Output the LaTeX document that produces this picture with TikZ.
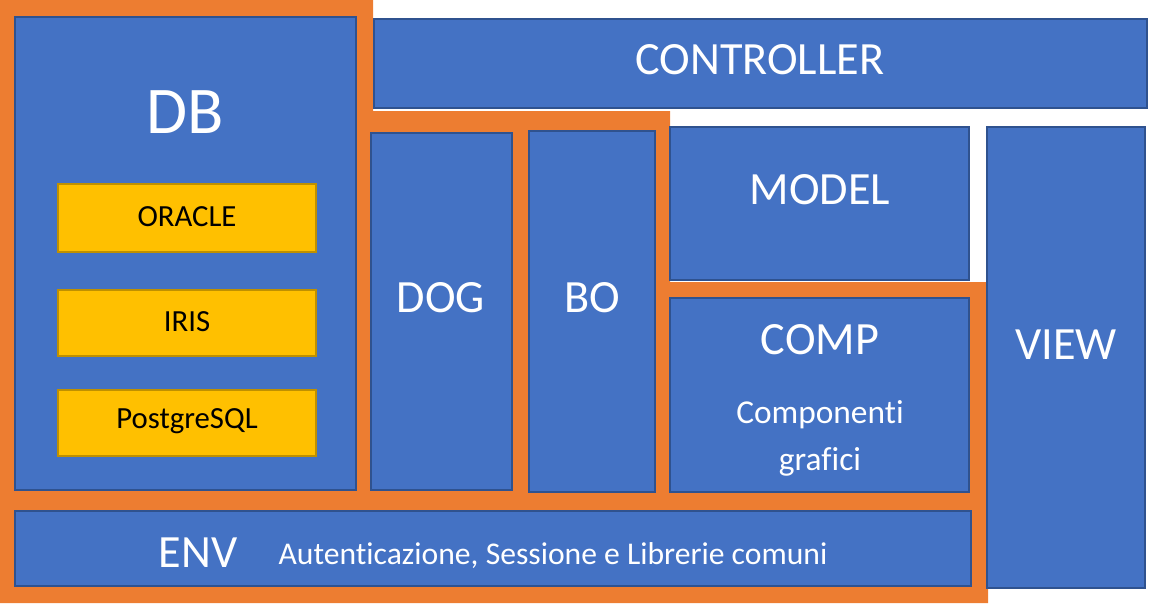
\documentclass[tikz,border=0pt]{standalone}
\usepackage{fontspec}
\setmainfont{Carlito}[Ligatures = NoCommon]

\definecolor{boxblue}{HTML}{4472C4}
\definecolor{boxline}{HTML}{2F528F}
\definecolor{dbyellow}{HTML}{FFC000}
\definecolor{dbline}{HTML}{BF9000}
\definecolor{layer}{HTML}{ED7D31}

\tikzset{
	box/.style = {fill = boxblue, draw = boxline, line width = 1.6pt},
	dbbox/.style = {fill = dbyellow, draw = dbline, line width = 1.6pt},
	huge/.style = {text = white, font = \fontsize{38}{38}\selectfont},
	big/.style = {text = white, font = \fontsize{26.3}{26.3}\selectfont},
	small/.style = {text = white, font = \fontsize{18}{18}\selectfont},
	dbname/.style = {text = black, font = \fontsize{17.5}{17.5}\selectfont}
}

\begin{document}
\begin{tikzpicture}[x = 0.02cm, y = -0.02cm]

	\useasboundingbox (0, 0) rectangle (1161, 603);

	% Orange layer behind the boxes
	
	\fill [layer] (0, 0) -- (373, 0) -- (373, 111) -- (670, 111) -- (670, 282)
		-- (988, 282) -- (988, 603) -- (0, 603) -- cycle;
	
	% DB with the three engines
	
	\filldraw [box] (15, 17) rectangle (356, 490);
	\node [huge] (db) at (185, 112) {DB};
	
	\filldraw [dbbox] (58, 184) rectangle (316, 252);
	\node [dbname] (oracle) at (187, 217) {ORACLE};
	
	\filldraw [dbbox] (58, 290) rectangle (316, 356);
	\node [dbname] (iris) at (187, 322) {IRIS};
	
	\filldraw [dbbox] (58, 390) rectangle (316, 456);
	\node [dbname] (postgres) at (187, 421) {PostgreSQL};
	
	% Controller on top
	
	\filldraw [box] (374, 19) rectangle (1147, 108);
	\node [big] (controller) at (760, 60) {CONTROLLER};
	
	% Middle columns
	
	\filldraw [box] (371, 133) rectangle (512, 490);
	\node [big] (dog) at (441, 298) {DOG};
	
	\filldraw [box] (529, 131) rectangle (655, 492);
	\node [big] (bo) at (592, 298) {BO};
	
	\filldraw [box] (670, 127) rectangle (969, 280);
	\node [big] (model) at (820, 190) {MODEL};
	
	\filldraw [box] (670, 298) rectangle (969, 492);
	\node [big] (comp) at (820, 340) {COMP};
	\node [small, font = \fontsize{19}{19}\selectfont] (compa) at (820, 415) {Componenti};
	\node [small, font = \fontsize{19}{19}\selectfont] (compb) at (820, 462) {grafici};
	
	\filldraw [box] (987, 127) rectangle (1145, 588);
	\node [big] (view) at (1066, 345) {VIEW};
	
	% Environment at the bottom
	
	\filldraw [box] (15, 511) rectangle (971, 586);
	\node [big] (env) at (198, 553) {ENV};
	\node [small] (envtxt) at (553, 556) {Autenticazione, Sessione e Librerie comuni};

\end{tikzpicture}
\end{document}
